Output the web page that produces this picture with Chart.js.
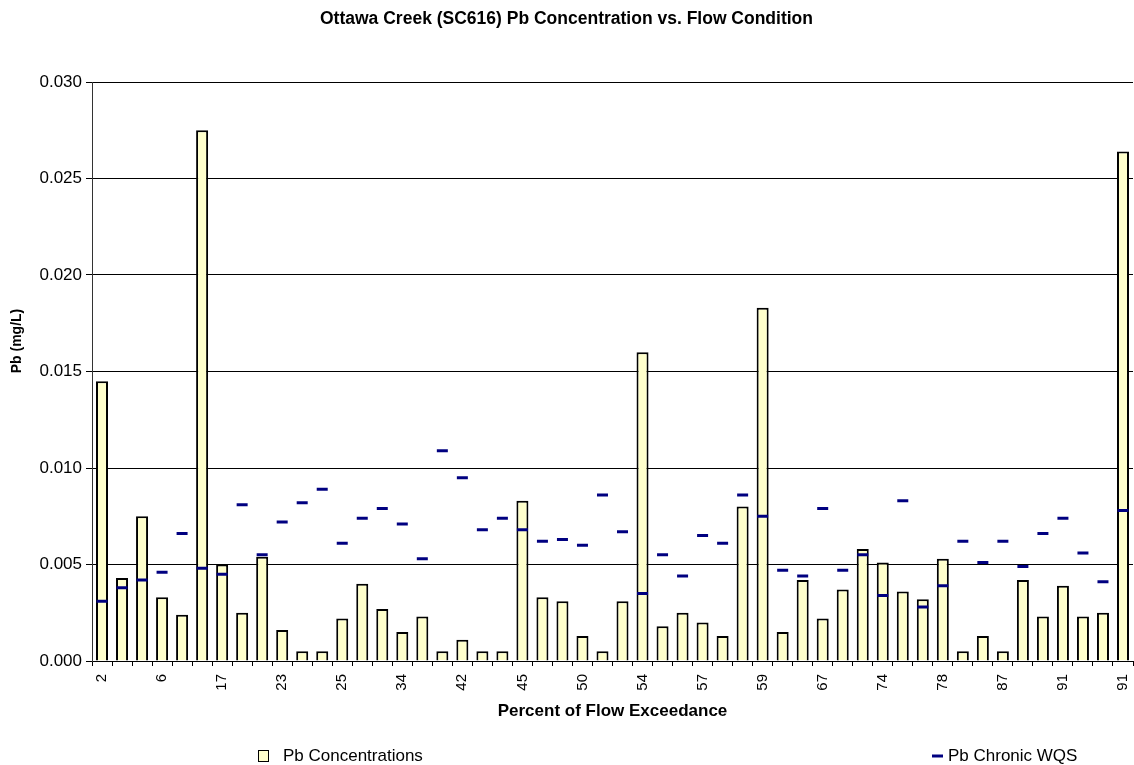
<!DOCTYPE html>
<html>
<head>
<meta charset="utf-8">
<title>Ottawa Creek (SC616) Pb Concentration vs. Flow Condition</title>
<script src="https://cdn.jsdelivr.net/npm/chart.js@4/dist/chart.umd.min.js"></script>
<style>
  html, body { margin: 0; padding: 0; background: #ffffff; }
  #wrap { position: relative; width: 1134px; height: 765px; }
</style>
</head>
<body>
<div id="wrap"><canvas id="chart"></canvas></div>
<script>
// Percent of flow exceedance for each sample (every third one is labelled on the axis)
const flowExceedance = [
  2, 4, 5, 6, 10, 15, 17, 19, 21, 23, 24, 24, 25, 28, 31, 34, 38, 40,
  42, 43, 44, 45, 47, 49, 50, 52, 53, 54, 55, 56, 57, 58, 58, 59, 62, 65,
  67, 70, 72, 74, 75, 77, 78, 82, 85, 87, 89, 90, 91, 91, 91, 91
];

// Measured lead concentration (mg/L)
const pbConcentrations = [
  0.0145, 0.0043, 0.0075, 0.0033, 0.0024, 0.0275, 0.0050, 0.0025, 0.0054, 0.0016,
  0.0005, 0.0005, 0.0022, 0.0040, 0.0027, 0.0015, 0.0023, 0.0005, 0.0011, 0.0005,
  0.0005, 0.0083, 0.0033, 0.0031, 0.0013, 0.0005, 0.0031, 0.0160, 0.0018, 0.0025,
  0.0020, 0.0013, 0.0080, 0.0183, 0.0015, 0.0042, 0.0022, 0.0037, 0.0058, 0.0051,
  0.0036, 0.0032, 0.0053, 0.0005, 0.0013, 0.0005, 0.0042, 0.0023, 0.0039, 0.0023,
  0.0025, 0.0264
];

// Hardness-based chronic water quality standard for each sample (mg/L)
const pbChronicWQS = [
  0.0031, 0.0038, 0.0042, 0.0046, 0.0066, 0.0048, 0.0045, 0.0081, 0.0055, 0.0072,
  0.0082, 0.0089, 0.0061, 0.0074, 0.0079, 0.0071, 0.0053, 0.0109, 0.0095, 0.0068,
  0.0074, 0.0068, 0.0062, 0.0063, 0.0060, 0.0086, 0.0067, 0.0035, 0.0055, 0.0044,
  0.0065, 0.0061, 0.0086, 0.0075, 0.0047, 0.0044, 0.0079, 0.0047, 0.0055, 0.0034,
  0.0083, 0.0028, 0.0039, 0.0062, 0.0051, 0.0062, 0.0049, 0.0066, 0.0074, 0.0056,
  0.0041, 0.0078
];

// Value axis range
const yMin = 0;
const yMax = 0.030;
const yStep = 0.005;

const FONT = "'Liberation Sans', Arial, Helvetica, sans-serif";
const BAR_FILL = '#FFFFCC';
const WQS_COLOR = '#000080';

// Rotated value-axis caption
const yCaption = {
  id: 'yCaption',
  afterDraw(chart) {
    const ctx = chart.ctx;
    ctx.save();
    ctx.translate(17, 341);
    ctx.rotate(-Math.PI / 2);
    ctx.font = 'bold 14px ' + FONT;
    ctx.fillStyle = '#000';
    ctx.textAlign = 'center';
    ctx.textBaseline = 'middle';
    ctx.fillText('Pb (mg/L)', 0, 0);
    ctx.restore();
  }
};

// Legend spread across the bottom of the chart
const wideLegend = {
  id: 'wideLegend',
  afterDraw(chart) {
    const ctx = chart.ctx;
    const bars = chart.data.datasets.find(d => d.type === 'bar');
    const wqs = chart.data.datasets.find(d => d.type === 'line');
    const y = 756;
    ctx.save();
    ctx.font = '17px ' + FONT;
    ctx.textBaseline = 'middle';
    ctx.textAlign = 'left';
    // bar swatch
    ctx.fillStyle = BAR_FILL;
    ctx.fillRect(258.5, 750.5, 10, 11);
    ctx.strokeStyle = '#000';
    ctx.lineWidth = 1;
    ctx.strokeRect(258.5, 750.5, 10, 11);
    ctx.fillStyle = '#000';
    ctx.fillText(bars.label, 283, y);
    // standard swatch
    ctx.strokeStyle = WQS_COLOR;
    ctx.lineWidth = 3;
    ctx.beginPath();
    ctx.moveTo(932, y);
    ctx.lineTo(943, y);
    ctx.stroke();
    ctx.fillText(wqs.label, 948, y);
    ctx.restore();
  }
};

new Chart(document.getElementById('chart'), {
  data: {
    labels: flowExceedance.map(String),
    datasets: [
      {
        type: 'line',
        label: 'Pb Chronic WQS',
        data: pbChronicWQS,
        showLine: false,
        pointStyle: 'line',
        pointRadius: 5.5,
        pointHoverRadius: 5.5,
        borderColor: WQS_COLOR,
        backgroundColor: WQS_COLOR,
        borderWidth: 3,
        order: 0
      },
      {
        type: 'bar',
        label: 'Pb Concentrations',
        data: pbConcentrations,
        backgroundColor: BAR_FILL,
        borderColor: '#000000',
        borderWidth: 2,
        barPercentage: 0.6,
        categoryPercentage: 1.0,
        order: 1
      }
    ]
  },
  options: {
    responsive: true,
    maintainAspectRatio: false,
    animation: false,
    layout: { autoPadding: false, padding: { left: 0, right: 1, top: 0, bottom: 43 } },
    plugins: {
      legend: { display: false },
      tooltip: { enabled: false },
      title: {
        display: true,
        text: 'Ottawa Creek (SC616) Pb Concentration vs. Flow Condition',
        color: '#000',
        font: { family: FONT, size: 17.5, weight: 'bold', lineHeight: 1.2 },
        padding: { top: 9, bottom: 52 }
      }
    },
    scales: {
      x: {
        type: 'category',
        offset: true,
        grid: {
          display: true,
          offset: true,
          drawOnChartArea: false,
          drawTicks: true,
          tickLength: 5,
          tickColor: '#000',
          tickWidth: 1
        },
        border: { display: true, color: '#000', width: 1 },
        ticks: {
          autoSkip: false,
          minRotation: 90,
          maxRotation: 90,
          padding: 8,
          color: '#000',
          font: { family: FONT, size: 15 },
          callback: function (value, index) {
            return index % 3 === 0 ? this.getLabelForValue(value) : '';
          }
        },
        title: {
          display: true,
          text: 'Percent of Flow Exceedance',
          color: '#000',
          font: { family: FONT, size: 17, weight: 'bold', lineHeight: 1.2 },
          padding: 0
        },
        afterFit(scale) {
          scale.height = 61;
          scale.paddingLeft = 0;
          scale.paddingRight = 0;
        }
      },
      y: {
        min: yMin,
        max: yMax,
        grid: {
          color: '#000',
          lineWidth: 1,
          drawTicks: true,
          tickLength: 6,
          tickColor: '#000'
        },
        border: { display: true, color: '#333', width: 1 },
        ticks: {
          stepSize: yStep,
          padding: 4,
          color: '#000',
          font: { family: FONT, size: 17 },
          callback: (v) => Number(v).toFixed(3)
        },
        afterFit(scale) {
          scale.width = 92;
        }
      }
    }
  },
  plugins: [yCaption, wideLegend]
});
</script>
</body>
</html>
